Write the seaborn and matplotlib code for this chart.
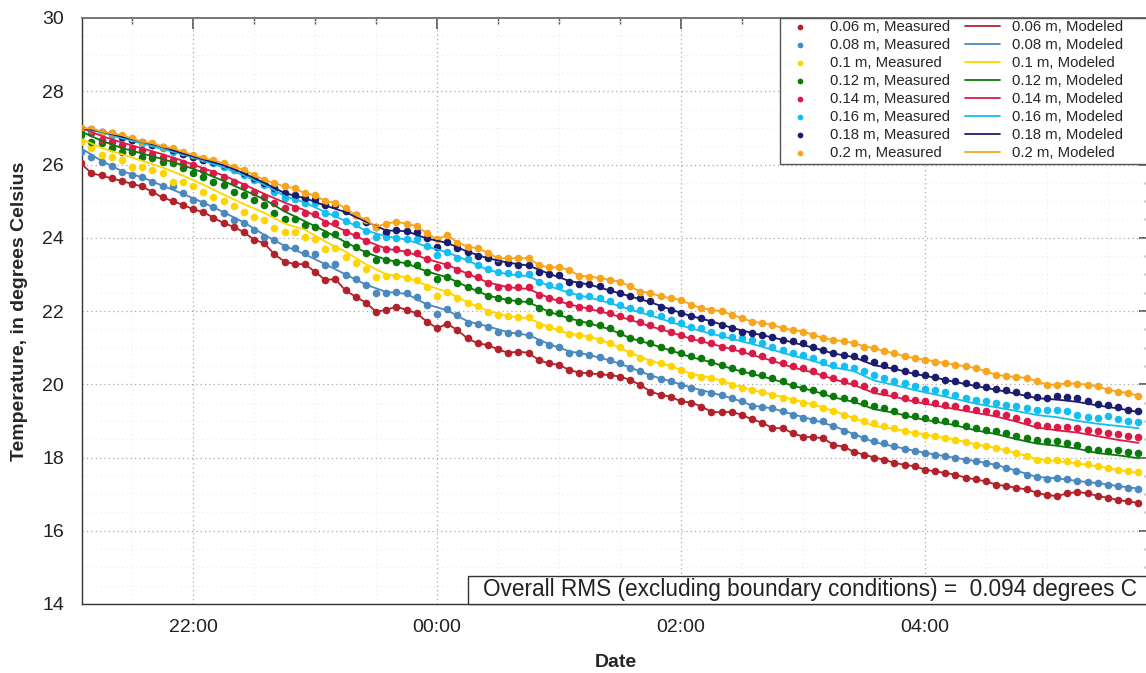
import pandas as pd
import matplotlib
matplotlib.use("Agg")
import matplotlib.pyplot as plt
import matplotlib.dates as mdates
from matplotlib.patches import Rectangle
from matplotlib.ticker import MultipleLocator
import seaborn as sns

# Measured every 5 min from 21:05, modeled every 10 min from 21:05
start_time = "2000-01-01 21:05"
x_limits = ("2000-01-01 21:05:24", "2000-01-02 05:50:40")

depths = ["0.06", "0.08", "0.1", "0.12", "0.14", "0.16", "0.18", "0.2"]
colors = ["#B2222B", "#4A88BE", "#FFD500", "#0A7A0A",
          "#DC1A48", "#14BEF0", "#1C1C6E", "#F8A51C"]

meas_006 = [26.03, 25.76, 25.70, 25.62, 25.55, 25.47, 25.40, 25.25, 25.10, 25.00, 24.90, 24.78, 24.70, 24.55, 24.40, 24.30, 24.15, 23.95, 23.85, 23.55,
            23.35, 23.28, 23.28, 23.07, 22.85, 22.87, 22.56, 22.39, 22.23, 21.98, 22.03, 22.12, 22.03, 21.94, 21.71, 21.53, 21.65, 21.48, 21.25, 21.12,
            21.07, 20.95, 20.86, 20.89, 20.86, 20.66, 20.57, 20.53, 20.39, 20.32, 20.30, 20.27, 20.25, 20.21, 20.12, 19.98, 19.80, 19.71, 19.66, 19.53,
            19.50, 19.39, 19.25, 19.23, 19.25, 19.16, 19.04, 18.95, 18.80, 18.80, 18.66, 18.57, 18.55, 18.53, 18.34, 18.30, 18.15, 18.08, 18.00, 17.94,
            17.85, 17.80, 17.76, 17.67, 17.62, 17.58, 17.53, 17.45, 17.40, 17.35, 17.26, 17.22, 17.17, 17.13, 17.04, 16.97, 16.95, 17.02, 17.06, 17.02,
            16.95, 16.90, 16.84, 16.80, 16.76]
meas_008 = [26.35, 26.21, 26.08, 25.97, 25.79, 25.71, 25.67, 25.53, 25.40, 25.40, 25.21, 25.03, 24.94, 24.85, 24.67, 24.48, 24.39, 24.21, 24.03, 23.94,
            23.76, 23.71, 23.57, 23.56, 23.26, 23.28, 22.98, 22.87, 22.71, 22.50, 22.50, 22.53, 22.48, 22.39, 22.16, 21.92, 22.05, 21.89, 21.68, 21.65,
            21.57, 21.44, 21.39, 21.39, 21.35, 21.16, 21.07, 21.03, 20.86, 20.85, 20.80, 20.75, 20.66, 20.57, 20.45, 20.35, 20.22, 20.15, 20.08, 19.98,
            19.90, 19.80, 19.76, 19.71, 19.62, 19.53, 19.40, 19.38, 19.35, 19.26, 19.17, 19.08, 19.03, 18.99, 18.85, 18.72, 18.62, 18.53, 18.44, 18.40,
            18.31, 18.24, 18.17, 18.12, 18.08, 18.04, 17.99, 17.94, 17.90, 17.85, 17.80, 17.72, 17.63, 17.53, 17.46, 17.40, 17.44, 17.40, 17.35, 17.33,
            17.30, 17.26, 17.22, 17.18, 17.15]
meas_010 = [26.62, 26.44, 26.26, 26.21, 26.12, 25.94, 25.94, 25.85, 25.76, 25.53, 25.53, 25.40, 25.26, 25.12, 24.99, 24.87, 24.71, 24.58, 24.48, 24.26,
            24.17, 24.17, 24.03, 23.96, 23.68, 23.71, 23.47, 23.32, 23.14, 22.92, 22.96, 22.96, 22.89, 22.85, 22.65, 22.41, 22.53, 22.35, 22.21, 22.14,
            21.98, 21.89, 21.85, 21.83, 21.83, 21.62, 21.56, 21.50, 21.37, 21.35, 21.30, 21.21, 21.12, 21.03, 20.85, 20.71, 20.62, 20.58, 20.49, 20.40,
            20.26, 20.21, 20.17, 20.08, 19.99, 19.90, 19.84, 19.80, 19.71, 19.62, 19.58, 19.49, 19.45, 19.36, 19.26, 19.17, 19.08, 19.00, 18.94, 18.85,
            18.80, 18.72, 18.67, 18.62, 18.58, 18.53, 18.49, 18.42, 18.35, 18.31, 18.26, 18.20, 18.12, 18.04, 17.94, 17.92, 17.92, 17.90, 17.85, 17.81,
            17.78, 17.72, 17.67, 17.63, 17.60]
meas_012 = [26.80, 26.62, 26.58, 26.44, 26.35, 26.35, 26.21, 26.17, 26.08, 26.03, 25.90, 25.76, 25.67, 25.53, 25.44, 25.26, 25.17, 25.03, 24.90, 24.67,
            24.50, 24.50, 24.35, 24.30, 24.10, 24.10, 23.83, 23.74, 23.57, 23.38, 23.38, 23.35, 23.30, 23.26, 23.07, 22.87, 22.94, 22.77, 22.66, 22.56,
            22.41, 22.35, 22.30, 22.28, 22.28, 22.07, 21.98, 21.94, 21.80, 21.71, 21.67, 21.62, 21.53, 21.40, 21.26, 21.21, 21.12, 21.03, 20.94, 20.85,
            20.76, 20.72, 20.62, 20.53, 20.44, 20.35, 20.31, 20.26, 20.17, 20.08, 19.99, 19.90, 19.85, 19.76, 19.67, 19.62, 19.57, 19.49, 19.40, 19.35,
            19.26, 19.17, 19.12, 19.08, 19.03, 18.99, 18.94, 18.85, 18.80, 18.76, 18.71, 18.67, 18.58, 18.53, 18.49, 18.44, 18.44, 18.40, 18.35, 18.22,
            18.20, 18.17, 18.20, 18.15, 18.12]
meas_014 = [26.95, 26.85, 26.67, 26.62, 26.53, 26.44, 26.40, 26.30, 26.21, 26.12, 26.03, 25.99, 25.85, 25.76, 25.67, 25.53, 25.40, 25.26, 25.12, 24.94,
            24.80, 24.80, 24.67, 24.65, 24.41, 24.41, 24.17, 24.08, 23.92, 23.68, 23.68, 23.68, 23.62, 23.59, 23.41, 23.19, 23.26, 23.12, 23.01, 22.94,
            22.77, 22.66, 22.65, 22.65, 22.65, 22.44, 22.35, 22.30, 22.19, 22.12, 22.08, 22.03, 21.94, 21.85, 21.80, 21.71, 21.62, 21.53, 21.44, 21.35,
            21.26, 21.21, 21.12, 21.03, 20.99, 20.90, 20.85, 20.76, 20.67, 20.58, 20.49, 20.44, 20.35, 20.26, 20.17, 20.08, 20.03, 19.94, 19.85, 19.80,
            19.72, 19.63, 19.58, 19.53, 19.49, 19.44, 19.40, 19.35, 19.31, 19.26, 19.22, 19.17, 19.08, 18.99, 18.90, 18.85, 18.83, 18.83, 18.81, 18.76,
            18.72, 18.67, 18.63, 18.60, 18.56]
meas_016 = [27.00, 26.95, 26.90, 26.80, 26.72, 26.67, 26.58, 26.53, 26.44, 26.35, 26.30, 26.21, 26.12, 26.03, 25.94, 25.85, 25.71, 25.58, 25.44, 25.26,
            25.08, 25.05, 24.94, 24.94, 24.67, 24.65, 24.47, 24.38, 24.19, 24.03, 24.03, 23.98, 23.96, 23.96, 23.78, 23.53, 23.62, 23.44, 23.41, 23.26,
            23.14, 23.07, 23.03, 23.01, 23.01, 22.80, 22.71, 22.67, 22.53, 22.41, 22.40, 22.35, 22.26, 22.17, 22.08, 22.03, 21.94, 21.85, 21.76, 21.67,
            21.57, 21.53, 21.44, 21.35, 21.30, 21.26, 21.21, 21.12, 21.03, 20.94, 20.85, 20.80, 20.71, 20.62, 20.53, 20.49, 20.44, 20.35, 20.26, 20.17,
            20.08, 20.03, 19.94, 19.88, 19.84, 19.78, 19.71, 19.62, 19.58, 19.53, 19.49, 19.44, 19.40, 19.35, 19.31, 19.30, 19.31, 19.26, 19.17, 19.10,
            19.08, 19.12, 19.05, 19.00, 18.98]
meas_018 = [27.00, 26.98, 26.90, 26.85, 26.76, 26.67, 26.62, 26.53, 26.49, 26.40, 26.30, 26.21, 26.12, 26.08, 25.99, 25.90, 25.76, 25.62, 25.49, 25.35,
            25.21, 25.17, 25.08, 25.05, 24.89, 24.89, 24.74, 24.62, 24.44, 24.28, 24.17, 24.21, 24.19, 24.17, 23.98, 23.76, 23.89, 23.71, 23.62, 23.50,
            23.44, 23.35, 23.30, 23.26, 23.26, 23.07, 23.01, 22.98, 22.80, 22.74, 22.74, 22.67, 22.58, 22.49, 22.40, 22.36, 22.26, 22.12, 22.03, 21.94,
            21.85, 21.80, 21.71, 21.62, 21.53, 21.44, 21.40, 21.35, 21.30, 21.21, 21.17, 21.12, 21.03, 20.94, 20.85, 20.80, 20.77, 20.71, 20.62, 20.53,
            20.44, 20.35, 20.31, 20.26, 20.21, 20.12, 20.08, 20.03, 19.97, 19.93, 19.88, 19.84, 19.78, 19.71, 19.65, 19.62, 19.67, 19.65, 19.62, 19.53,
            19.47, 19.44, 19.38, 19.31, 19.26]
meas_020 = [27.00, 26.98, 26.90, 26.85, 26.80, 26.71, 26.62, 26.58, 26.49, 26.44, 26.35, 26.26, 26.17, 26.12, 26.03, 25.94, 25.85, 25.71, 25.58, 25.49,
            25.40, 25.35, 25.21, 25.17, 24.99, 24.96, 24.80, 24.62, 24.49, 24.30, 24.38, 24.44, 24.38, 24.32, 24.12, 23.96, 24.08, 23.87, 23.76, 23.71,
            23.59, 23.44, 23.44, 23.44, 23.44, 23.26, 23.19, 23.19, 23.12, 22.96, 22.94, 22.90, 22.85, 22.80, 22.67, 22.53, 22.49, 22.40, 22.35, 22.30,
            22.17, 22.08, 22.03, 21.99, 21.90, 21.80, 21.71, 21.67, 21.62, 21.53, 21.48, 21.44, 21.35, 21.26, 21.21, 21.17, 21.13, 21.03, 20.99, 20.90,
            20.85, 20.76, 20.71, 20.67, 20.62, 20.58, 20.53, 20.49, 20.44, 20.35, 20.26, 20.22, 20.20, 20.17, 20.08, 19.99, 19.99, 20.03, 20.01, 19.99,
            19.94, 19.85, 19.80, 19.76, 19.68]

# Modeled (10 min). The 0.06 m and 0.2 m depths are boundary conditions,
# so their modeled curves run through the measured values.
mod_006 = meas_006
mod_008 = [26.44, 26.10, 25.82, 25.65, 25.42, 25.20, 24.96, 24.70, 24.42, 24.08, 23.78, 23.55, 23.28, 23.00, 22.72, 22.52, 22.47, 22.18,
           22.02, 21.72, 21.58, 21.42, 21.34, 21.10, 20.90, 20.80, 20.65, 20.46, 20.24, 20.08, 19.91, 19.77, 19.62, 19.42, 19.34, 19.18,
           19.03, 18.86, 18.64, 18.42, 18.30, 18.18, 18.08, 17.99, 17.90, 17.80, 17.64, 17.47, 17.43, 17.36, 17.30, 17.22, 17.15]
mod_010 = [26.70, 26.45, 26.28, 26.10, 25.92, 25.70, 25.45, 25.18, 24.92, 24.68, 24.39, 24.22, 23.90, 23.62, 23.28, 23.00, 22.92, 22.70,
           22.52, 22.24, 22.00, 21.86, 21.80, 21.56, 21.38, 21.30, 21.12, 20.86, 20.64, 20.50, 20.28, 20.18, 20.00, 19.84, 19.72, 19.58,
           19.45, 19.27, 19.08, 18.86, 18.78, 18.67, 18.58, 18.49, 18.36, 18.26, 18.12, 17.96, 17.90, 17.84, 17.76, 17.66, 17.58]
mod_012 = [26.90, 26.65, 26.45, 26.30, 26.15, 25.98, 25.78, 25.55, 25.30, 25.05, 24.72, 24.45, 24.18, 23.88, 23.60, 23.40, 23.30, 23.08,
           22.92, 22.66, 22.42, 22.30, 22.24, 21.98, 21.80, 21.66, 21.50, 21.26, 21.10, 20.92, 20.74, 20.60, 20.42, 20.28, 20.14, 19.96,
           19.82, 19.64, 19.52, 19.32, 19.22, 19.08, 18.98, 18.88, 18.74, 18.64, 18.50, 18.38, 18.32, 18.24, 18.12, 18.06, 17.98]
mod_014 = [27.00, 26.78, 26.60, 26.44, 26.28, 26.10, 25.90, 25.70, 25.46, 25.20, 24.96, 24.75, 24.45, 24.18, 23.92, 23.70, 23.62, 23.42,
           23.26, 23.02, 22.78, 22.65, 22.60, 22.36, 22.18, 22.06, 21.92, 21.76, 21.58, 21.42, 21.24, 21.10, 20.96, 20.80, 20.64, 20.46,
           20.32, 20.14, 19.98, 19.76, 19.66, 19.52, 19.42, 19.32, 19.22, 19.12, 18.98, 18.82, 18.74, 18.68, 18.58, 18.48, 18.40]
mod_016 = [27.00, 26.88, 26.72, 26.58, 26.42, 26.28, 26.10, 25.92, 25.70, 25.45, 25.14, 24.96, 24.70, 24.46, 24.20, 24.04, 23.95, 23.76,
           23.60, 23.38, 23.12, 23.00, 22.95, 22.68, 22.50, 22.36, 22.22, 22.04, 21.88, 21.70, 21.52, 21.38, 21.24, 21.10, 20.94, 20.78,
           20.64, 20.46, 20.36, 20.10, 19.98, 19.84, 19.72, 19.60, 19.47, 19.37, 19.27, 19.16, 19.10, 19.00, 18.92, 18.86, 18.80]
mod_018 = [27.00, 26.90, 26.76, 26.62, 26.48, 26.30, 26.14, 25.98, 25.76, 25.50, 25.22, 25.08, 24.88, 24.70, 24.44, 24.20, 24.18, 23.98,
           23.86, 23.62, 23.44, 23.32, 23.24, 23.02, 22.82, 22.72, 22.56, 22.40, 22.24, 22.04, 21.86, 21.72, 21.54, 21.40, 21.28, 21.14,
           21.00, 20.84, 20.74, 20.52, 20.42, 20.28, 20.18, 20.06, 19.95, 19.85, 19.74, 19.62, 19.58, 19.52, 19.42, 19.34, 19.24]
mod_020 = meas_020

measured = [meas_006, meas_008, meas_010, meas_012, meas_014, meas_016, meas_018, meas_020]
modeled = [mod_006, mod_008, mod_010, mod_012, mod_014, mod_016, mod_018, mod_020]

rms_text = "Overall RMS (excluding boundary conditions) =  0.094 degrees C"

sns.set_theme(style="white")
plt.rcParams["font.family"] = ["Liberation Sans", "DejaVu Sans"]

W, H = 1146, 673
fig = plt.figure(figsize=(W / 100, H / 100), dpi=100)
ax = fig.add_axes([82 / W, 69 / H, 1068 / W, 586 / H])

# measured points
for depth, color, vals in zip(depths, colors, measured):
    t = pd.date_range(start_time, periods=len(vals), freq="5min")
    sns.scatterplot(x=t, y=vals, color=color, s=30, linewidth=0,
                    label=f"{depth} m, Measured", ax=ax, zorder=3)

# modeled lines
for depth, color, vals, meas in zip(depths, colors, modeled, measured):
    freq = "5min" if vals is meas else "10min"
    t = pd.date_range(start_time, periods=len(vals), freq=freq)
    sns.lineplot(x=t, y=vals, color=color, linewidth=1.3,
                 label=f"{depth} m, Modeled", ax=ax, zorder=4)

ax.set_xlim(pd.Timestamp(x_limits[0]), pd.Timestamp(x_limits[1]))
ax.set_ylim(14, 30)

ax.xaxis.set_major_locator(mdates.HourLocator(interval=2))
ax.xaxis.set_minor_locator(mdates.MinuteLocator(byminute=[0, 30]))
ax.xaxis.set_major_formatter(mdates.DateFormatter("%H:%M"))
ax.yaxis.set_major_locator(MultipleLocator(2))
ax.yaxis.set_minor_locator(MultipleLocator(0.5))

ax.set_axisbelow(True)
ax.grid(which="major", linestyle=(0, (1, 2.5)), color="#a8a8a8", linewidth=0.9)
ax.grid(which="minor", linestyle=(0, (1, 3)), color="#ececec", linewidth=0.8)

ax.tick_params(which="major", direction="inout", length=14, width=1,
               color="#333333", labelsize=14, labelcolor="#222222")
ax.tick_params(which="minor", direction="inout", length=7, width=1, color="#333333")
ax.tick_params(axis="y", which="major", pad=6)
ax.tick_params(axis="x", which="major", pad=4)

for side in ["left", "bottom"]:
    ax.spines[side].set_color("#333333")
    ax.spines[side].set_linewidth(1)
ax.spines["top"].set_color("#777777")
ax.spines["right"].set_visible(False)

# inward ticks on top and right
top = ax.secondary_xaxis("top")
top.xaxis.set_major_locator(mdates.HourLocator(interval=2))
top.xaxis.set_minor_locator(mdates.MinuteLocator(byminute=[0, 30]))
top.tick_params(which="major", direction="in", length=8, color="#555555", labeltop=False)
top.tick_params(which="minor", direction="in", length=4, color="#555555")
top.spines["top"].set_color("#777777")

right = ax.secondary_yaxis("right")
right.yaxis.set_major_locator(MultipleLocator(2))
right.yaxis.set_minor_locator(MultipleLocator(0.5))
right.tick_params(which="major", direction="in", length=8, color="#555555", labelright=False)
right.tick_params(which="minor", direction="in", length=4, color="#555555")

ax.set_xlabel("Date", fontsize=14, fontweight="bold", labelpad=13)
ax.set_ylabel("Temperature, in degrees Celsius", fontsize=14, fontweight="bold", labelpad=10)

# legend: white box running off the right edge, entries in two columns
ax.add_patch(Rectangle((780 / W, 1 - 164 / H), 0.4, 146 / H, transform=fig.transFigure,
                       facecolor="white", edgecolor="#555555", linewidth=1,
                       zorder=9, clip_on=False))
handles, labels = ax.get_legend_handles_labels()
leg = ax.legend(handles, labels, ncol=2, loc="upper left",
                bbox_to_anchor=(780 / W, 1 - 18 / H), bbox_transform=fig.transFigure,
                fontsize=10.7, frameon=False, borderaxespad=0, borderpad=0.15,
                labelspacing=0.27, handlelength=2.4, handletextpad=0.8,
                columnspacing=1.0, markerscale=0.75)
leg.set_zorder(10)

# RMS annotation box at the bottom right
ax.add_patch(Rectangle((0.3614, 0.0), 0.66, 0.0478, transform=ax.transAxes,
                       facecolor="white", edgecolor="#333333", linewidth=1,
                       zorder=8, clip_on=False))
ax.text(0.3755, 0.024, rms_text, transform=ax.transAxes, fontsize=16.25,
        ha="left", va="center", color="#222222", zorder=9)

fig.savefig("out.png", dpi=100)
